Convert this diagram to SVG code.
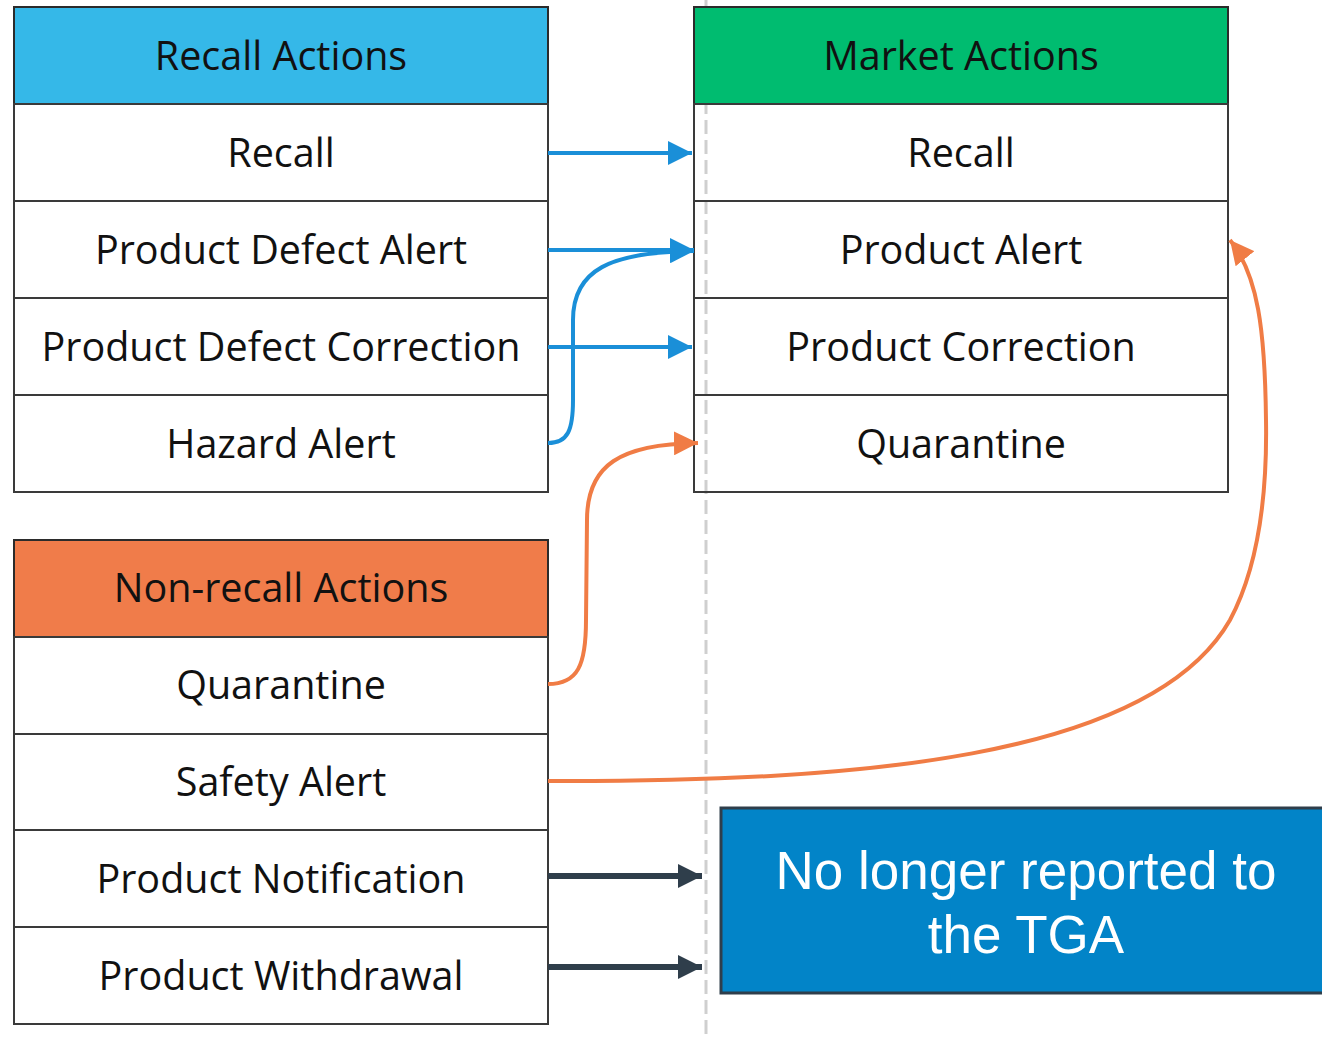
<svg xmlns="http://www.w3.org/2000/svg" width="1322" height="1037" viewBox="0 0 1322 1037">
  <style>
    .cell { fill: none; stroke: #3a3a3a; stroke-width: 2; }
    .hdr { stroke: #2b2b2b; stroke-width: 2; }
    .lbl { font-family: "Open Sans", "Noto Sans", sans-serif; font-size: 39.5px; fill: #111; text-anchor: middle; dominant-baseline: central; }
    .big { font-family: "Liberation Sans", Arial, sans-serif; font-size: 53px; fill: #fff; text-anchor: middle; dominant-baseline: central; }
    .blue { fill: none; stroke: #1A8FD8; stroke-width: 4; }
    .orange { fill: none; stroke: #F07C45; stroke-width: 4; }
    .dark { fill: none; stroke: #2F3E4B; stroke-width: 6; }
  </style>
  <defs>
    <marker id="ahBlue" markerUnits="userSpaceOnUse" markerWidth="26" markerHeight="24" refX="24" refY="12" orient="auto">
      <path d="M0,0 L24,12 L0,24 Z" fill="#1A8FD8"/>
    </marker>
    <marker id="ahOrange" markerUnits="userSpaceOnUse" markerWidth="26" markerHeight="24" refX="24" refY="12" orient="auto">
      <path d="M0,0 L24,12 L0,24 Z" fill="#F07C45"/>
    </marker>
    <marker id="ahDark" markerUnits="userSpaceOnUse" markerWidth="26" markerHeight="24" refX="24" refY="12" orient="auto">
      <path d="M0,0 L24,12 L0,24 Z" fill="#2F3E4B"/>
    </marker>
  </defs>

  <rect width="1322" height="1037" fill="#fff"/>

  <!-- dashed divider -->
  <line x1="706" y1="0" x2="706" y2="1037" stroke="#cfcfcf" stroke-width="3" stroke-dasharray="14,6"/>

  <!-- Recall actions table -->
  <g id="recall-actions">
    <rect x="14" y="7" width="534" height="97" fill="#35B8E8" class="hdr"/>
    <text x="281" y="55" class="lbl">Recall Actions</text>
    <rect x="14" y="104" width="534" height="97" class="cell"/>
    <text x="281" y="152" class="lbl">Recall</text>
    <rect x="14" y="201" width="534" height="97" class="cell"/>
    <text x="281" y="249" class="lbl">Product Defect Alert</text>
    <rect x="14" y="298" width="534" height="97" class="cell"/>
    <text x="281" y="346" class="lbl">Product Defect Correction</text>
    <rect x="14" y="395" width="534" height="97" class="cell"/>
    <text x="281" y="443" class="lbl">Hazard Alert</text>
  </g>

  <!-- Market actions table -->
  <g id="market-actions">
    <rect x="694" y="7" width="534" height="97" fill="#00BC70" class="hdr"/>
    <text x="961" y="55" class="lbl">Market Actions</text>
    <rect x="694" y="104" width="534" height="97" class="cell"/>
    <text x="961" y="152" class="lbl">Recall</text>
    <rect x="694" y="201" width="534" height="97" class="cell"/>
    <text x="961" y="249" class="lbl">Product Alert</text>
    <rect x="694" y="298" width="534" height="97" class="cell"/>
    <text x="961" y="346" class="lbl">Product Correction</text>
    <rect x="694" y="395" width="534" height="97" class="cell"/>
    <text x="961" y="443" class="lbl">Quarantine</text>
  </g>

  <!-- Non-recall actions table -->
  <g id="non-recall-actions">
    <rect x="14" y="540" width="534" height="97" fill="#F07C4A" class="hdr"/>
    <text x="281" y="587" class="lbl">Non-recall Actions</text>
    <rect x="14" y="637" width="534" height="97" class="cell"/>
    <text x="281" y="684" class="lbl">Quarantine</text>
    <rect x="14" y="734" width="534" height="96" class="cell"/>
    <text x="281" y="781" class="lbl">Safety Alert</text>
    <rect x="14" y="830" width="534" height="97" class="cell"/>
    <text x="281" y="878" class="lbl">Product Notification</text>
    <rect x="14" y="927" width="534" height="97" class="cell"/>
    <text x="281" y="975" class="lbl">Product Withdrawal</text>
  </g>

  <!-- not reported box -->
  <g id="not-reported">
    <rect x="721" y="808" width="604" height="185" fill="#0284C8" stroke="#2F3E4B" stroke-width="3"/>
    <text x="1026" y="870" class="big">No longer reported to</text>
    <text x="1026" y="934" class="big">the TGA</text>
  </g>

  <!-- connectors -->
  <g id="connectors">
    <path class="blue" d="M548,153 L692,153" marker-end="url(#ahBlue)"/>
    <path class="blue" d="M548,250 L694,250" marker-end="url(#ahBlue)"/>
    <path class="blue" d="M548,347 L692,347" marker-end="url(#ahBlue)"/>
    <path class="blue" d="M548,443 C568,443 573,430 573,400 L573,320 C573,270 610,252 694,251" marker-end="url(#ahBlue)"/>
    <path class="orange" d="M548,684 C578,684 586,665 586,620 L587,520 C587,465 620,444 698,443" marker-end="url(#ahOrange)"/>
    <path class="orange" d="M548,781 C850,782 1150,760 1230,620 C1262,560 1267,480 1266,420 C1265,330 1258,275 1230,240" marker-end="url(#ahOrange)"/>
    <path class="dark" d="M548,876 L702,876" marker-end="url(#ahDark)"/>
    <path class="dark" d="M548,967 L702,967" marker-end="url(#ahDark)"/>
  </g>
</svg>
